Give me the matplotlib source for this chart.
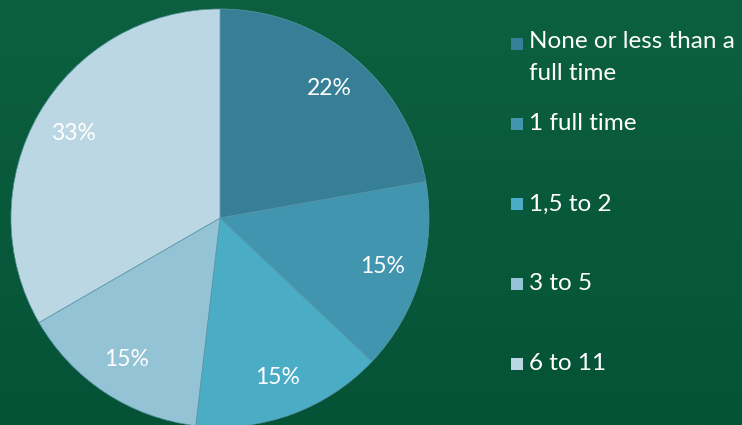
import matplotlib
matplotlib.use("Agg")
import matplotlib.pyplot as plt
import numpy as np
from matplotlib.patches import Rectangle

categories = ["None or less than a\nfull time", "1 full time", "1,5 to 2", "3 to 5", "6 to 11"]
counts = [6, 4, 4, 4, 9]
colors = ["#377F96", "#4195AE", "#4AACC5", "#93C3D5", "#BBD7E3"]

W, H = 742, 425
fig = plt.figure(figsize=(W / 100, H / 100), dpi=100)

# gradient background
bg = fig.add_axes([0, 0, 1, 1])
grad = np.linspace(0, 1, 256).reshape(-1, 1)
top = np.array([0x0C, 0x60, 0x3F]) / 255
bot = np.array([0x05, 0x53, 0x37]) / 255
img = top[None, None, :] * (1 - grad[:, :, None]) + bot[None, None, :] * grad[:, :, None]
bg.imshow(img, aspect="auto", extent=[0, 1, 0, 1])
bg.set_axis_off()

cx, cy, r = 220, 218, 209
ax = fig.add_axes([(cx - r) / W, (H - cy - r) / H, 2 * r / W, 2 * r / H])
wedges, texts = ax.pie(
    counts,
    colors=colors,
    startangle=90,
    counterclock=False,
    radius=1,
    labels=[f"{c / sum(counts) * 100:.0f}%" for c in counts],
    labeldistance=0.81,
    wedgeprops=dict(edgecolor="#5A98A8", linewidth=0.5),
    textprops=dict(color="white", fontsize=16.5, family="Lato"),
)
for t in texts:
    t.set_ha("center")
    t.set_va("center")
ax.set_xlim(-1, 1)
ax.set_ylim(-1, 1)
ax.set_axis_off()

# legend drawn manually
leg_x = 511
text_x = 529
y0 = 44
step = 80
for i, (lab, col) in enumerate(zip(categories, colors)):
    y = y0 + i * step
    fig.patches.append(Rectangle((leg_x / W, (H - y - 6) / H), 12 / W, 12 / H,
                                 transform=fig.transFigure, facecolor=col, edgecolor="none"))
    if "\n" in lab:
        fig.text(text_x / W, (H - y + 13) / H, lab, color="white", fontsize=17.5, family="Lato",
                 va="top", ha="left", linespacing=1.65)
    else:
        fig.text(text_x / W, (H - y) / H, lab, color="white", fontsize=17.5, family="Lato",
                 va="center", ha="left")

fig.savefig("out.png", dpi=100)
